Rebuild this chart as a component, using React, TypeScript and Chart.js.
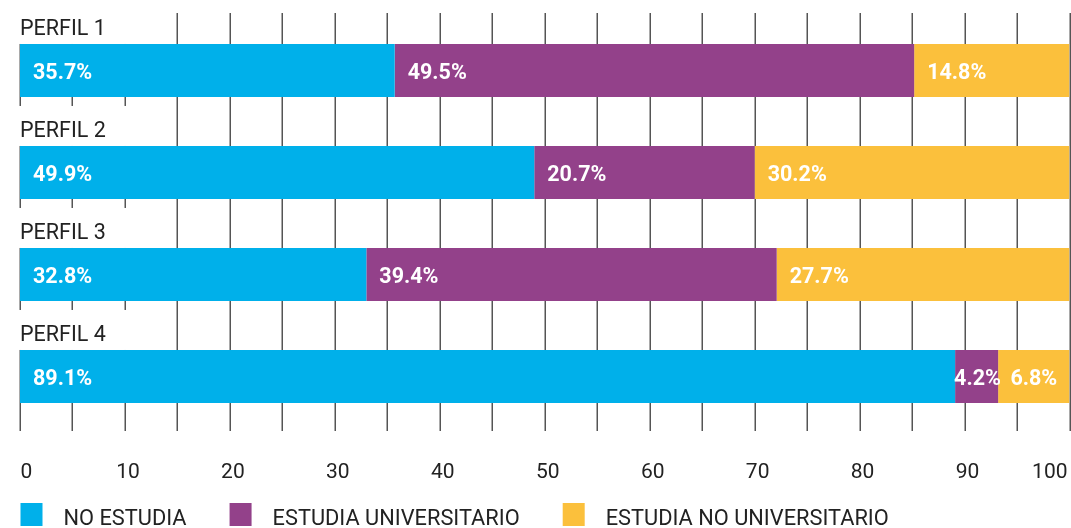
import React, { useEffect, useRef } from "react";
import { Chart, registerables } from "chart.js";

Chart.register(...registerables);

const categories = ["PERFIL 1", "PERFIL 2", "PERFIL 3", "PERFIL 4"];
const seriesNames = ["NO ESTUDIA", "ESTUDIA UNIVERSITARIO", "ESTUDIA NO UNIVERSITARIO"];
const seriesColors = ["#00B0EA", "#93418A", "#FBC03C"];

const noEstudia = [35.7, 49.0, 33.0, 89.1];
const universitario = [49.5, 21.0, 39.1, 4.1];
const noUniversitario = [14.8, 30.0, 27.9, 6.8];

const noEstudiaLabels = ["35.7%", "49.9%", "32.8%", "89.1%"];
const universitarioLabels = ["49.5%", "20.7%", "39.4%", "4.2%"];
const noUniversitarioLabels = ["14.8%", "30.2%", "27.7%", "6.8%"];

const tickValues = [0, 10, 20, 30, 40, 50, 60, 70, 80, 90, 100];
const gridValues = [0, 5, 10, 15, 20, 25, 30, 35, 40, 45, 50, 55, 60, 65, 70, 75, 80, 85, 90, 95, 100];

const FONT = "Roboto, 'Noto Sans', sans-serif";

const customPlugin = {
  id: "custom",
  beforeDatasetsDraw(chart: any) {
    const ctx = chart.ctx;
    const xs = chart.scales.x;
    const area = chart.chartArea;
    ctx.save();
    ctx.strokeStyle = "#555";
    ctx.lineWidth = 1.5;
    gridValues.forEach((v) => {
      const px = Math.round(xs.getPixelForValue(v)) + 0.25;
      ctx.beginPath();
      ctx.moveTo(px, area.top - 6.5);
      ctx.lineTo(px, area.bottom + 3.5);
      ctx.stroke();
    });
    const meta = chart.getDatasetMeta(0);
    meta.data.forEach((el: any, i: number) => {
      const top = el.y - el.height / 2;
      ctx.fillStyle = "#fff";
      ctx.fillRect(0, top - 40, 150, 40);
      ctx.fillStyle = "#222";
      ctx.font = `21.5px ${FONT}`;
      ctx.textAlign = "left";
      ctx.textBaseline = "alphabetic";
      ctx.fillText(categories[i], 20, top - 9);
    });
    ctx.restore();
  },
  afterDatasetsDraw(chart: any) {
    const ctx = chart.ctx;
    const xs = chart.scales.x;
    const labelSets = [noEstudiaLabels, universitarioLabels, noUniversitarioLabels];
    ctx.save();
    ctx.font = `bold 21.5px ${FONT}`;
    ctx.fillStyle = "#fff";
    ctx.textAlign = "left";
    ctx.textBaseline = "alphabetic";
    chart.data.datasets.forEach((ds: any, di: number) => {
      const meta = chart.getDatasetMeta(di);
      meta.data.forEach((el: any, i: number) => {
        const left = Math.min(el.base, el.x);
        const right = Math.max(el.base, el.x);
        const w = right - left;
        const txt = labelSets[di][i];
        const tw = ctx.measureText(txt).width;
        const pad = Math.min(13, Math.max(-1, (w - tw) / 2));
        ctx.fillText(txt, left + pad, el.y + 8.5);
      });
    });

    // tick labels
    ctx.font = `21px ${FONT}`;
    ctx.fillStyle = "#222";
    const area = chart.chartArea;
    tickValues.forEach((v) => {
      const px = xs.getPixelForValue(v);
      const txt = String(v);
      const tw = ctx.measureText(txt).width;
      let x = px + 3 - tw / 2;
      if (x < area.left + 0.5) x = area.left + 0.5;
      if (x + tw > chart.width - 3.5) x = chart.width - 3.5 - tw;
      ctx.fillText(txt, x, 477.5);
    });

    // legend
    ctx.font = `21.8px ${FONT}`;
    let lx = 20.5;
    chart.data.datasets.forEach((ds: any) => {
      ctx.fillStyle = ds.backgroundColor;
      ctx.fillRect(lx, 503, 22, 23);
      ctx.fillStyle = "#222";
      const tx = lx + 43;
      ctx.fillText(ds.label, tx, 525);
      lx = tx + ctx.measureText(ds.label).width + 43;
    });
    ctx.restore();
  },
};

export default function App() {
  const canvasRef = useRef<HTMLCanvasElement | null>(null);

  useEffect(() => {
    if (!canvasRef.current) return;
    const values = [noEstudia, universitario, noUniversitario];
    const chart = new Chart(canvasRef.current, {
      type: "bar",
      data: {
        labels: categories,
        datasets: seriesNames.map((name, i) => ({
          label: name,
          data: values[i],
          backgroundColor: seriesColors[i],
          borderWidth: 0,
          categoryPercentage: 1,
          barPercentage: 0.52,
        })),
      },
      options: {
        indexAxis: "y",
        animation: false,
        responsive: true,
        maintainAspectRatio: false,
        layout: { padding: { left: 20, right: 1.5, top: 19.5, bottom: 100.5 } },
        plugins: {
          legend: { display: false },
          tooltip: { enabled: false },
        },
        scales: {
          x: { stacked: true, min: 0, max: 100, display: false },
          y: { stacked: true, display: false },
        },
      },
      plugins: [customPlugin],
    });
    return () => chart.destroy();
  }, []);

  return (
    <div style={{ position: "fixed", left: 0, top: 0, width: 1071, height: 528, background: "#fff" }}>
      <canvas ref={canvasRef} />
    </div>
  );
}
